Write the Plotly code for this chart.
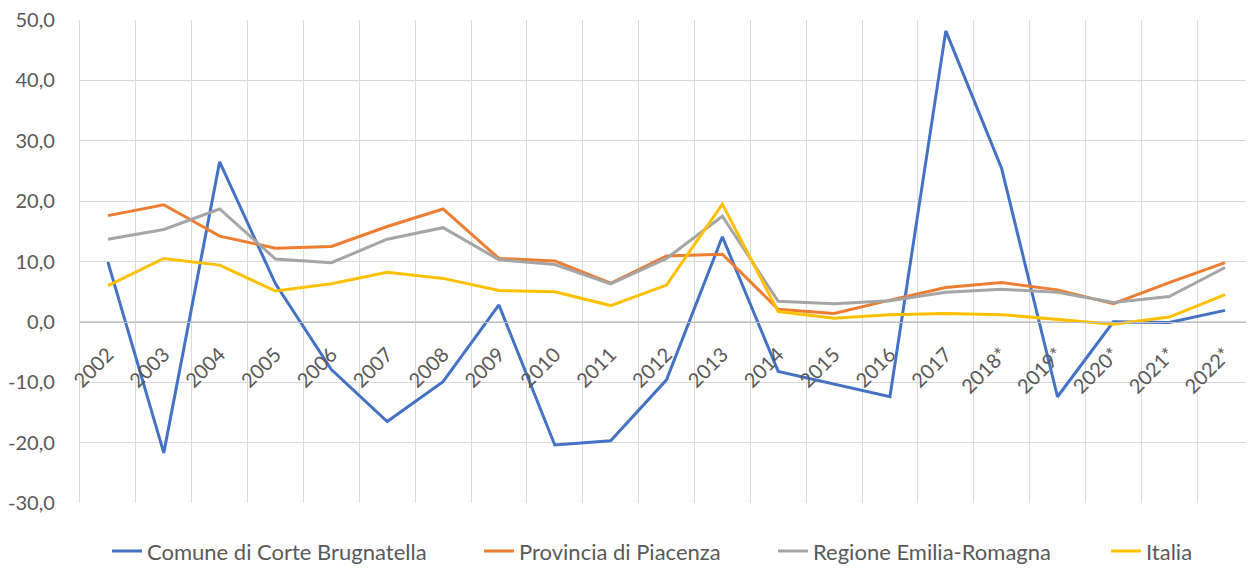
import plotly.graph_objects as go

years = ["2002", "2003", "2004", "2005", "2006", "2007", "2008", "2009", "2010", "2011",
         "2012", "2013", "2014", "2015", "2016", "2017", "2018*", "2019*", "2020*", "2021*", "2022*"]

comune = [9.9, -21.7, 26.5, 6.3, -7.9, -16.5, -9.9, 2.8, -20.4, -19.7,
          -9.6, 14.1, -8.2, -10.3, -12.4, 48.2, 25.4, -12.4, 0.0, -0.1, 1.9]
provincia = [17.6, 19.4, 14.2, 12.2, 12.5, 15.8, 18.7, 10.5, 10.1, 6.4,
             10.9, 11.2, 2.1, 1.4, 3.6, 5.7, 6.5, 5.3, 3.0, 6.5, 9.8]
regione = [13.7, 15.3, 18.7, 10.4, 9.8, 13.7, 15.6, 10.3, 9.5, 6.3,
           10.5, 17.5, 3.4, 3.0, 3.5, 4.9, 5.4, 4.9, 3.2, 4.2, 9.0]
italia = [6.0, 10.5, 9.4, 5.1, 6.3, 8.2, 7.2, 5.2, 5.0, 2.7,
          6.1, 19.5, 1.7, 0.6, 1.2, 1.4, 1.2, 0.4, -0.4, 0.8, 4.5]

series_names = ["Comune di Corte Brugnatella", "Provincia di Piacenza", "Regione Emilia-Romagna", "Italia"]
series_values = [comune, provincia, regione, italia]
colors = ["#4472C4", "#ED7D31", "#A5A5A5", "#FFC000"]

ytickvals = [-30, -20, -10, 0, 10, 20, 30, 40, 50]
yticktext = ["-30,0", "-20,0", "-10,0", "0,0", "10,0", "20,0", "30,0", "40,0", "50,0"]

FONT = "Lato"
TXT = "#595959"

# page body has an 8px margin; the figure is sized to fill the rest of the window
W, H = 1246, 562
ML, MR, MT, MB = 72, 1, 12, 67
legend_px = [99, 471, 765, 1098]
legend_ids = ["legend", "legend2", "legend3", "legend4"]

fig = go.Figure()
for name, vals, col, lid in zip(series_names, series_values, colors, legend_ids):
    fig.add_trace(go.Scatter(x=years, y=vals, name=name, mode="lines",
                             line=dict(color=col, width=3), legend=lid))

pw = W - ML - MR
legend_common = dict(orientation="h", xanchor="left", y=-0.1, yanchor="middle",
                     font=dict(family=FONT, size=22, color=TXT), bgcolor="rgba(0,0,0,0)",
                     borderwidth=0)
legends = {}
for lid, px in zip(legend_ids, legend_px):
    legends[lid] = dict(x=(px - ML) / pw, **legend_common)

fig.update_layout(
    width=W, height=H,
    margin=dict(l=ML, r=MR, t=MT, b=MB, autoexpand=False),
    paper_bgcolor="white", plot_bgcolor="white",
    font=dict(family=FONT, size=20, color=TXT),
    showlegend=True,
    xaxis=dict(type="category", tickson="boundaries", showgrid=True, gridcolor="#D9D9D9",
               gridwidth=1.3, anchor="free", position=0.375, showline=True,
               linecolor="#BFBFBF", linewidth=1.3, tickangle=-45, ticks="",
               ticklabelstandoff=12, ticklabeloverflow="allow",
               tickfont=dict(family=FONT, size=20, color=TXT), range=[-0.5, 20.5],
               zeroline=False, automargin=False),
    yaxis=dict(range=[-30, 50], tickvals=ytickvals, ticktext=yticktext, showgrid=True,
               gridcolor="#D9D9D9", gridwidth=1.3, zeroline=False, ticks="",
               showline=True, linecolor="#D9D9D9", linewidth=1.3, mirror=True,
               ticklabelstandoff=20, ticklabeloverflow="allow",
               tickfont=dict(family=FONT, size=20, color=TXT),
               automargin=False),
    **legends,
)

fig.write_html("out.html")
